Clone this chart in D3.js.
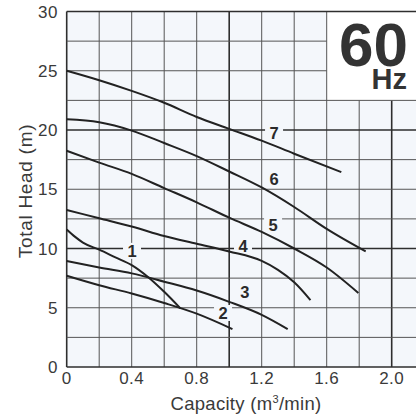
<!DOCTYPE html>
<html>
<head>
<meta charset="utf-8">
<script src="https://cdn.jsdelivr.net/npm/d3@7"></script>
<style>
	body { margin: 0; background: #fff; }
	svg { display: block; font-family: "Liberation Sans", Arial, sans-serif; }
</style>
</head>
<body>
<svg id="pump-chart"></svg>
<script>
// capacity (m3/min) and head (m)
let q1 = [0, 0.05, 0.1, 0.2, 0.3, 0.4, 0.5, 0.6, 0.7];
let h1 = [11.6, 11.0, 10.5, 9.9, 9.25, 8.6, 7.6, 6.35, 4.95];
let q2 = [0, 0.2, 0.4, 0.6, 0.8, 1.02];
let h2 = [7.7, 6.9, 6.2, 5.4, 4.5, 3.2];
let q3 = [0, 0.2, 0.4, 0.6, 0.8, 1.0, 1.2, 1.36];
let h3 = [8.95, 8.4, 7.9, 7.2, 6.45, 5.5, 4.4, 3.2];
let q4 = [0, 0.2, 0.4, 0.6, 0.8, 1.0, 1.2, 1.3, 1.4, 1.5];
let h4 = [13.25, 12.55, 11.85, 11.05, 10.4, 9.75, 8.95, 8.2, 7.15, 5.65];
let q5 = [0, 0.2, 0.4, 0.6, 0.8, 1.0, 1.2, 1.4, 1.6, 1.795];
let h5 = [18.25, 17.25, 16.3, 15.1, 13.9, 12.6, 11.4, 10.0, 8.4, 6.25];
let q6 = [0, 0.2, 0.4, 0.6, 0.8, 1.0, 1.2, 1.4, 1.6, 1.84];
let h6 = [20.9, 20.65, 19.95, 18.9, 17.8, 16.5, 15.15, 13.5, 11.65, 9.75];
let q7 = [0, 0.2, 0.4, 0.6, 0.8, 1.0, 1.2, 1.4, 1.69];
let h7 = [25.0, 24.2, 23.3, 22.3, 21.1, 20.1, 19.1, 18.0, 16.45];

let curveNames = ["1", "2", "3", "4", "5", "6", "7"];
let curveQ = [q1, q2, q3, q4, q5, q6, q7];
let curveH = [h1, h2, h3, h4, h5, h6, h7];
// where the curve numbers sit (capacity, head)
let labelQ = [0.402, 0.962, 1.097, 1.085, 1.27, 1.276, 1.276];
let labelH = [9.8, 4.56, 6.3, 10.2, 11.98, 15.86, 19.75];

let xTicks = [0, 0.4, 0.8, 1.2, 1.6, 2.0];
let yTicks = [0, 5, 10, 15, 20, 25, 30];
let xGrid = [0, 0.2, 0.4, 0.6, 0.8, 1.0, 1.2, 1.4, 1.6, 1.8, 2.0, 2.2];
let yGrid = [0, 2.5, 5, 7.5, 10, 12.5, 15, 17.5, 20, 22.5, 25, 27.5, 30];

class PumpChart{
	constructor(){
		this.svgWidth = 416;
		this.svgHeight = 416;
		this.svg = d3.select("#pump-chart")
			.attr("width", this.svgWidth)
			.attr("height", this.svgHeight);

		this.xScale = d3.scaleLinear()
						.domain([0, 2.2])
						.range([66.7, 424.2]);
		this.yScale = d3.scaleLinear()
						.domain([0, 30])
						.range([367, 11.5]);

		// the "60 Hz" box covers this corner of the grid
		this.boxQ = 1.6;
		this.boxH = 22.5;
		this.plotFill = "#f4f7fb";
		this.textColor = "#3a3a3a";
	}

	drawGrid(){
		let that = this;
		let x = this.xScale, y = this.yScale;
		let g = this.svg.append("g");

		g.append("rect")
			.attr("x", x(0)).attr("y", y(30))
			.attr("width", x(2.2) - x(0)).attr("height", y(0) - y(30))
			.attr("fill", this.plotFill);
		g.append("rect")
			.attr("x", x(this.boxQ)).attr("y", y(30))
			.attr("width", x(2.2) - x(this.boxQ)).attr("height", y(this.boxH) - y(30))
			.attr("fill", "#ffffff");

		let isMajorX = d => Math.abs(d - 1) < 1e-6 || Math.abs(d - 2) < 1e-6 || d == 0;
		let isMajorY = d => d == 10 || d == 20 || d == 0 || d == 30;

		g.selectAll(".vgrid")
			.data(xGrid)
			.join("line")
			.attr("class", "vgrid")
			.attr("x1", d => x(d)).attr("x2", d => x(d))
			.attr("y1", y(0))
			.attr("y2", d => d > that.boxQ + 1e-6 ? y(that.boxH) : y(30))
			.attr("stroke", d => isMajorX(d) ? "#2e2e2e" : "#555")
			.attr("stroke-width", d => isMajorX(d) ? 1.6 : 1);

		g.selectAll(".hgrid")
			.data(yGrid)
			.join("line")
			.attr("class", "hgrid")
			.attr("x1", x(0))
			.attr("x2", d => (d > that.boxH && d < 30) ? x(that.boxQ) : x(2.2))
			.attr("y1", d => y(d)).attr("y2", d => y(d))
			.attr("stroke", d => isMajorY(d) ? "#2e2e2e" : "#555")
			.attr("stroke-width", d => isMajorY(d) ? 1.6 : 1);
	}

	drawAxes(){
		let x = this.xScale, y = this.yScale;
		let g = this.svg.append("g")
			.attr("fill", this.textColor)
			.style("font-size", "17px");

		g.selectAll(".xtick")
			.data(xTicks)
			.join("text")
			.attr("class", "xtick")
			.attr("x", d => x(d))
			.attr("y", 384)
			.attr("text-anchor", "middle")
			.style("letter-spacing", "0.5px")
			.text(d => d == 0 ? "0" : d.toFixed(1));

		g.selectAll(".ytick")
			.data(yTicks)
			.join("text")
			.attr("class", "ytick")
			.attr("x", 58)
			.attr("y", d => y(d) + 6)
			.attr("text-anchor", "end")
			.style("letter-spacing", "0.5px")
			.text(d => d);

		let xt = g.append("text")
			.attr("x", 246)
			.attr("y", 410)
			.attr("text-anchor", "middle")
			.style("font-size", "18.5px")
			.style("letter-spacing", "0.3px")
			.text("Capacity (m");
		xt.append("tspan").attr("dy", -7).style("font-size", "11px").text("3");
		xt.append("tspan").attr("dy", 7).text("/min)");

		g.append("text")
			.attr("transform", "translate(32,191) rotate(-90)")
			.attr("text-anchor", "middle")
			.style("font-size", "19px")
			.style("letter-spacing", "0.7px")
			.text("Total Head (m)");
	}

	drawCurves(){
		let that = this;
		let line = d3.line()
					.x(d => that.xScale(d[0]))
					.y(d => that.yScale(d[1]))
					.curve(d3.curveMonotoneX);

		let rows = curveNames.map((n, i) => ({
			name: n,
			pts: curveQ[i].map((q, j) => [q, curveH[i][j]]),
			lq: labelQ[i],
			lh: labelH[i]
		}));

		// label backgrounds break the grid lines
		let lab = this.svg.append("g");
		lab.selectAll("rect")
			.data(rows)
			.join("rect")
			.attr("x", d => that.xScale(d.lq) - 9)
			.attr("y", d => that.yScale(d.lh) - 8)
			.attr("width", 18)
			.attr("height", 16)
			.attr("fill", this.plotFill);

		this.svg.append("g")
			.selectAll("path")
			.data(rows)
			.join("path")
			.attr("d", d => line(d.pts))
			.attr("fill", "none")
			.attr("stroke", "#222")
			.attr("stroke-width", 2);

		lab.selectAll("text")
			.data(rows)
			.join("text")
			.attr("x", d => that.xScale(d.lq))
			.attr("y", d => that.yScale(d.lh) + 6)
			.attr("text-anchor", "middle")
			.attr("fill", "#2a2a2a")
			.style("font-size", "16.5px")
			.style("font-weight", "bold")
			.text(d => d.name);
	}

	drawBadge(){
		this.svg.append("text")
			.attr("x", 408).attr("y", 66)
			.attr("text-anchor", "end")
			.attr("fill", "#333")
			.style("font-size", "62px")
			.style("font-weight", "bold")
			.text("60");
		this.svg.append("text")
			.attr("x", 407).attr("y", 89)
			.attr("text-anchor", "end")
			.attr("fill", "#333")
			.style("font-size", "29px")
			.style("font-weight", "bold")
			.text("Hz");
	}
}

let chart = new PumpChart();
chart.drawGrid();
chart.drawAxes();
chart.drawCurves();
chart.drawBadge();
</script>
</body>
</html>
